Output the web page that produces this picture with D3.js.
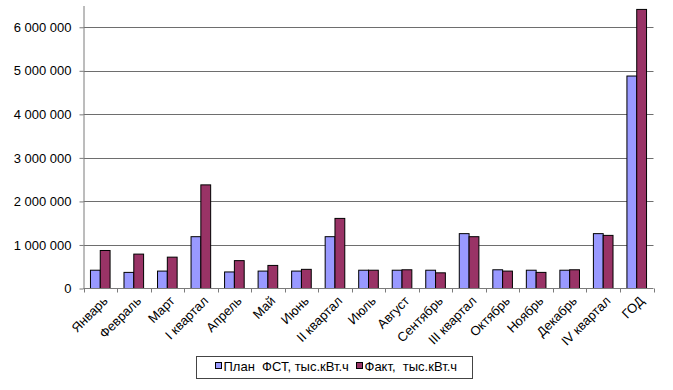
<!DOCTYPE html>
<html lang="ru">

<head>
    <meta charset="UTF-8">
    <title>План / Факт</title>
    <style>
        body {
            margin: 0;
            padding: 0;
            overflow: hidden;
            background-color: #ffffff;
        }

        svg {
            display: block;
            font-family: "Liberation Sans", Arial, sans-serif;
        }
    </style>
</head>

<body>
    <script src="https://d3js.org/d3.v7.min.js"></script>
    <script>
        const categories = ['Январь', 'Февраль', 'Март', 'I квартал', 'Апрель', 'Май', 'Июнь', 'II квартал',
            'Июль', 'Август', 'Сентябрь', 'III квартал', 'Октябрь', 'Ноябрь', 'Декабрь', 'IV квартал', 'ГОД'];
        const planValues = [420000, 370000, 400000, 1190000, 380000, 400000, 400000, 1190000,
            420000, 420000, 420000, 1260000, 430000, 420000, 420000, 1260000, 4880000];
        const factValues = [873000, 790000, 720000, 2380000, 640000, 530000, 440000, 1610000,
            420000, 430000, 360000, 1190000, 400000, 370000, 430000, 1220000, 6410000];
        const yTicks = [0, 1000000, 2000000, 3000000, 4000000, 5000000, 6000000];
        const seriesNames = ['План  ФСТ, тыс.кВт.ч', 'Факт,  тыс.кВт.ч'];
        const seriesColors = ['#9999ff', '#993366'];

        const width = 673;
        const height = 390;
        const plotLeft = 83.5;
        const plotRight = 653.5;
        const plotTop = 5.5;
        const plotBottom = 288.5;

        const svg = d3.select('body')
            .append('svg')
            .attr('width', width)
            .attr('height', height);

        const x = d3.scaleBand()
            .domain(categories)
            .range([plotLeft, plotRight])
            .paddingInner(0.415)
            .paddingOuter(0.2075);

        const xs = d3.scaleBand()
            .domain([0, 1])
            .range([0, x.bandwidth()]);

        const y = d3.scaleLinear()
            .domain([0, 6500000])
            .range([plotBottom, plotTop]);

        const fmt = d => d3.format(',')(d).replace(/,/g, ' ');

        // gridlines
        svg.append('g')
            .selectAll('line')
            .data(yTicks.slice(1))
            .enter()
            .append('line')
            .attr('x1', plotLeft)
            .attr('x2', plotRight)
            .attr('y1', d => Math.round(y(d)) + 0.5)
            .attr('y2', d => Math.round(y(d)) + 0.5)
            .attr('stroke', '#6e6e6e')
            .attr('stroke-width', 1);

        // bars
        const series = [planValues, factValues];
        series.forEach((vals, s) => {
            svg.append('g')
                .selectAll('rect')
                .data(vals)
                .enter()
                .append('rect')
                .attr('x', (d, i) => x(categories[i]) + xs(s))
                .attr('y', d => y(d))
                .attr('width', xs.bandwidth())
                .attr('height', d => plotBottom - y(d))
                .attr('fill', seriesColors[s])
                .attr('stroke', '#000')
                .attr('stroke-width', 1);
        });

        // y axis
        const yAxis = svg.append('g')
            .attr('transform', `translate(${plotLeft},0)`)
            .call(d3.axisLeft(y).tickValues(yTicks).tickFormat(fmt).tickSize(4).tickPadding(8).tickSizeOuter(0));
        yAxis.select('.domain').attr('stroke', '#7a7a7a');
        yAxis.selectAll('.tick line').attr('stroke', '#7a7a7a');
        yAxis.selectAll('text').attr('font-size', 13).attr('fill', '#000');

        // x axis with ticks between categories
        const xAxis = svg.append('g');
        xAxis.append('line')
            .attr('x1', plotLeft)
            .attr('x2', plotRight)
            .attr('y1', plotBottom)
            .attr('y2', plotBottom)
            .attr('stroke', '#7a7a7a');
        xAxis.selectAll('.sep')
            .data(d3.range(categories.length + 1))
            .enter()
            .append('line')
            .attr('x1', i => Math.round(plotLeft + i * x.step()) + 0.5)
            .attr('x2', i => Math.round(plotLeft + i * x.step()) + 0.5)
            .attr('y1', plotBottom)
            .attr('y2', plotBottom + 4)
            .attr('stroke', '#7a7a7a');
        xAxis.selectAll('text')
            .data(categories)
            .enter()
            .append('text')
            .attr('transform', d => `translate(${x(d) + x.bandwidth() / 2 + 5},${plotBottom + 10}) rotate(-45)`)
            .attr('text-anchor', 'end')
            .attr('dy', '0.35em')
            .attr('font-size', 13)
            .text(d => d);

        // legend
        const legend = svg.append('g');
        legend.append('rect')
            .attr('x', 196.5)
            .attr('y', 356.5)
            .attr('width', 276)
            .attr('height', 22)
            .attr('fill', '#fff')
            .attr('stroke', '#444');
        const legendX = [215.5, 356.5];
        seriesNames.forEach((name, s) => {
            legend.append('rect')
                .attr('x', legendX[s])
                .attr('y', 362.5)
                .attr('width', 6)
                .attr('height', 6)
                .attr('fill', seriesColors[s])
                .attr('stroke', '#000');
            legend.append('text')
                .attr('x', legendX[s] + 8)
                .attr('y', 371)
                .attr('font-size', 13)
                .style('white-space', 'pre')
                .text(name);
        });
    </script>
</body>

</html>
